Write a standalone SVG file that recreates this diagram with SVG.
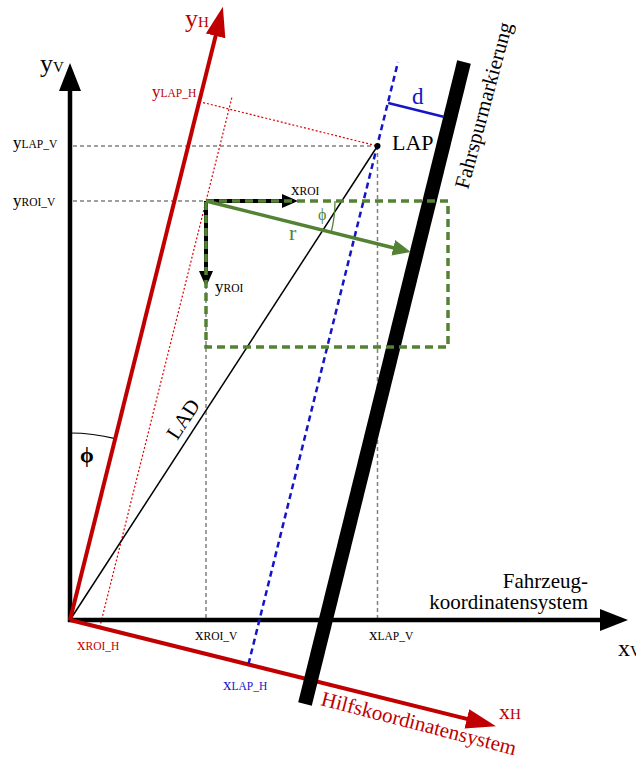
<svg xmlns="http://www.w3.org/2000/svg" width="636" height="758" viewBox="0 0 636 758">
<style>
text{font-family:"Liberation Serif","Times New Roman",serif}
.k{fill:#000}.r{fill:#c00000}.b{fill:#1515c8}.g{fill:#548235}
.gray{stroke:#808080;stroke-width:1.5;stroke-dasharray:4 3;fill:none}
.rdot{stroke:#e00000;stroke-width:1.2;stroke-dasharray:2 2;fill:none}
.m{font-size:17px}.s{font-size:11.5px}
</style>
<defs>
<marker id="ahK" markerUnits="userSpaceOnUse" markerWidth="30" markerHeight="24" viewBox="0 -12 30 24" refX="2" refY="0" orient="auto"><path d="M0,-11 L28,0 L0,11 Z" fill="#000"/></marker>
<marker id="ahR" markerUnits="userSpaceOnUse" markerWidth="32" markerHeight="22" viewBox="0 -11 32 22" refX="2" refY="0" orient="auto"><path d="M0,-10 L30,0 L0,10 Z" fill="#c00000"/></marker>
<marker id="ahS" markerUnits="userSpaceOnUse" markerWidth="18" markerHeight="16" viewBox="0 -8 18 16" refX="2" refY="0" orient="auto"><path d="M0,-7 L16,0 L0,7 Z" fill="#000"/></marker>
<marker id="ahG" markerUnits="userSpaceOnUse" markerWidth="20" markerHeight="18" viewBox="0 -9 20 18" refX="2" refY="0" orient="auto"><path d="M0,-8 L18,0 L0,8 Z" fill="#548235"/></marker>
</defs>

<g id="connectors">
<!-- gray helper lines -->
<path class="gray" d="M73,146 H377.5 M73,201 H206 M206,201 V620 M377.5,146 V620"/>
<!-- red dotted projections -->
<path class="rdot" d="M199.2,101.6 L377.5,146 M99.7,627.4 L232,97"/>
<!-- LAD -->
<line x1="70" y1="620" x2="377.5" y2="146" stroke="#000" stroke-width="1.5"/>
<!-- phi arcs -->
<path d="M70,433 A187,187 0 0 1 115.2,438.6" fill="none" stroke="#000" stroke-width="1.2"/>
<path d="M335,201 A129,129 0 0 1 331.2,232.2" fill="none" stroke="#548235" stroke-width="1.3"/>
</g>

<g id="axis-yV"><line x1="70" y1="622" x2="70" y2="89" stroke="#000" stroke-width="4.5" marker-end="url(#ahK)"/></g>
<g id="axis-xV"><line x1="68" y1="620" x2="602" y2="620" stroke="#000" stroke-width="4.5" marker-end="url(#ahK)"/></g>
<g id="axis-yH"><line x1="70" y1="620" x2="216.1" y2="33.9" stroke="#c00000" stroke-width="4" marker-end="url(#ahR)"/></g>
<g id="axis-xH"><line x1="70" y1="620" x2="468.8" y2="719.4" stroke="#c00000" stroke-width="4" marker-end="url(#ahR)"/></g>

<g id="lane"><line x1="464" y1="62" x2="305" y2="704" stroke="#000" stroke-width="14"/></g>

<g id="lap-parallel">
<line x1="248.5" y1="664" x2="398" y2="62" stroke="#1515c8" stroke-width="2.5" stroke-dasharray="6 4"/>
<line x1="388.2" y1="103" x2="443.5" y2="116.8" stroke="#1515c8" stroke-width="2.5"/>
</g>

<g id="roi">
<line x1="206" y1="201" x2="284" y2="201" stroke="#000" stroke-width="4" marker-end="url(#ahS)"/>
<line x1="206" y1="201" x2="206" y2="273" stroke="#000" stroke-width="4" marker-end="url(#ahS)"/>
<rect x="206" y="201" width="242" height="146" fill="none" stroke="#548235" stroke-width="3.5" stroke-dasharray="8 5"/>
<line x1="206" y1="201" x2="395.2" y2="248.2" stroke="#548235" stroke-width="3.5" marker-end="url(#ahG)"/>
</g>

<g id="lap"><circle cx="377.5" cy="146" r="3" fill="#000"/></g>

<g id="labels">
<text x="40" y="72" class="k" font-size="26">y<tspan font-size="15">V</tspan></text>
<text x="185" y="27" class="r" font-size="26">y<tspan font-size="15">H</tspan></text>
<text x="152" y="97" class="r m">y<tspan class="s">LAP_H</tspan></text>
<text x="13" y="148" class="k m">y<tspan class="s">LAP_V</tspan></text>
<text x="13" y="206" class="k m">y<tspan class="s">ROI_V</tspan></text>
<text x="291" y="195" class="k m">x<tspan class="s">ROI</tspan></text>
<text x="215" y="292" class="k m">y<tspan class="s">ROI</tspan></text>
<text x="77" y="650" class="r m">x<tspan class="s">ROI_H</tspan></text>
<text x="195" y="640" class="k m">x<tspan class="s">ROI_V</tspan></text>
<text x="223" y="690" class="b m">x<tspan class="s">LAP_H</tspan></text>
<text x="369" y="640" class="k m">x<tspan class="s">LAP_V</tspan></text>
<text x="618" y="656" class="k" font-size="24">x<tspan font-size="15">V</tspan></text>
<text x="499" y="719" class="r" font-size="22">x<tspan font-size="15">H</tspan></text>
<text x="392" y="150" class="k" font-size="22">LAP</text>
<text x="412" y="104" class="b" font-size="23">d</text>
<text x="80" y="462" class="k" font-size="22" font-weight="bold">ϕ</text>
<text x="318" y="220" class="g" font-size="16">ϕ</text>
<text x="289" y="240" class="g" font-size="22">r</text>
<text x="189" y="423" class="k" font-size="21" text-anchor="middle" transform="rotate(-57 189 423)">LAD</text>
<text x="588" y="588" class="k" font-size="21" text-anchor="end">Fahrzeug-</text>
<text x="588" y="609" class="k" font-size="21" text-anchor="end">koordinatensystem</text>
<text x="320" y="705" class="r" font-size="21" transform="rotate(14.5 320 705)">Hilfskoordinatensystem</text>
<text x="468" y="190" class="k" font-size="21" transform="rotate(-75 468 190)">Fahrspurmarkierung</text>
</g>
</svg>
